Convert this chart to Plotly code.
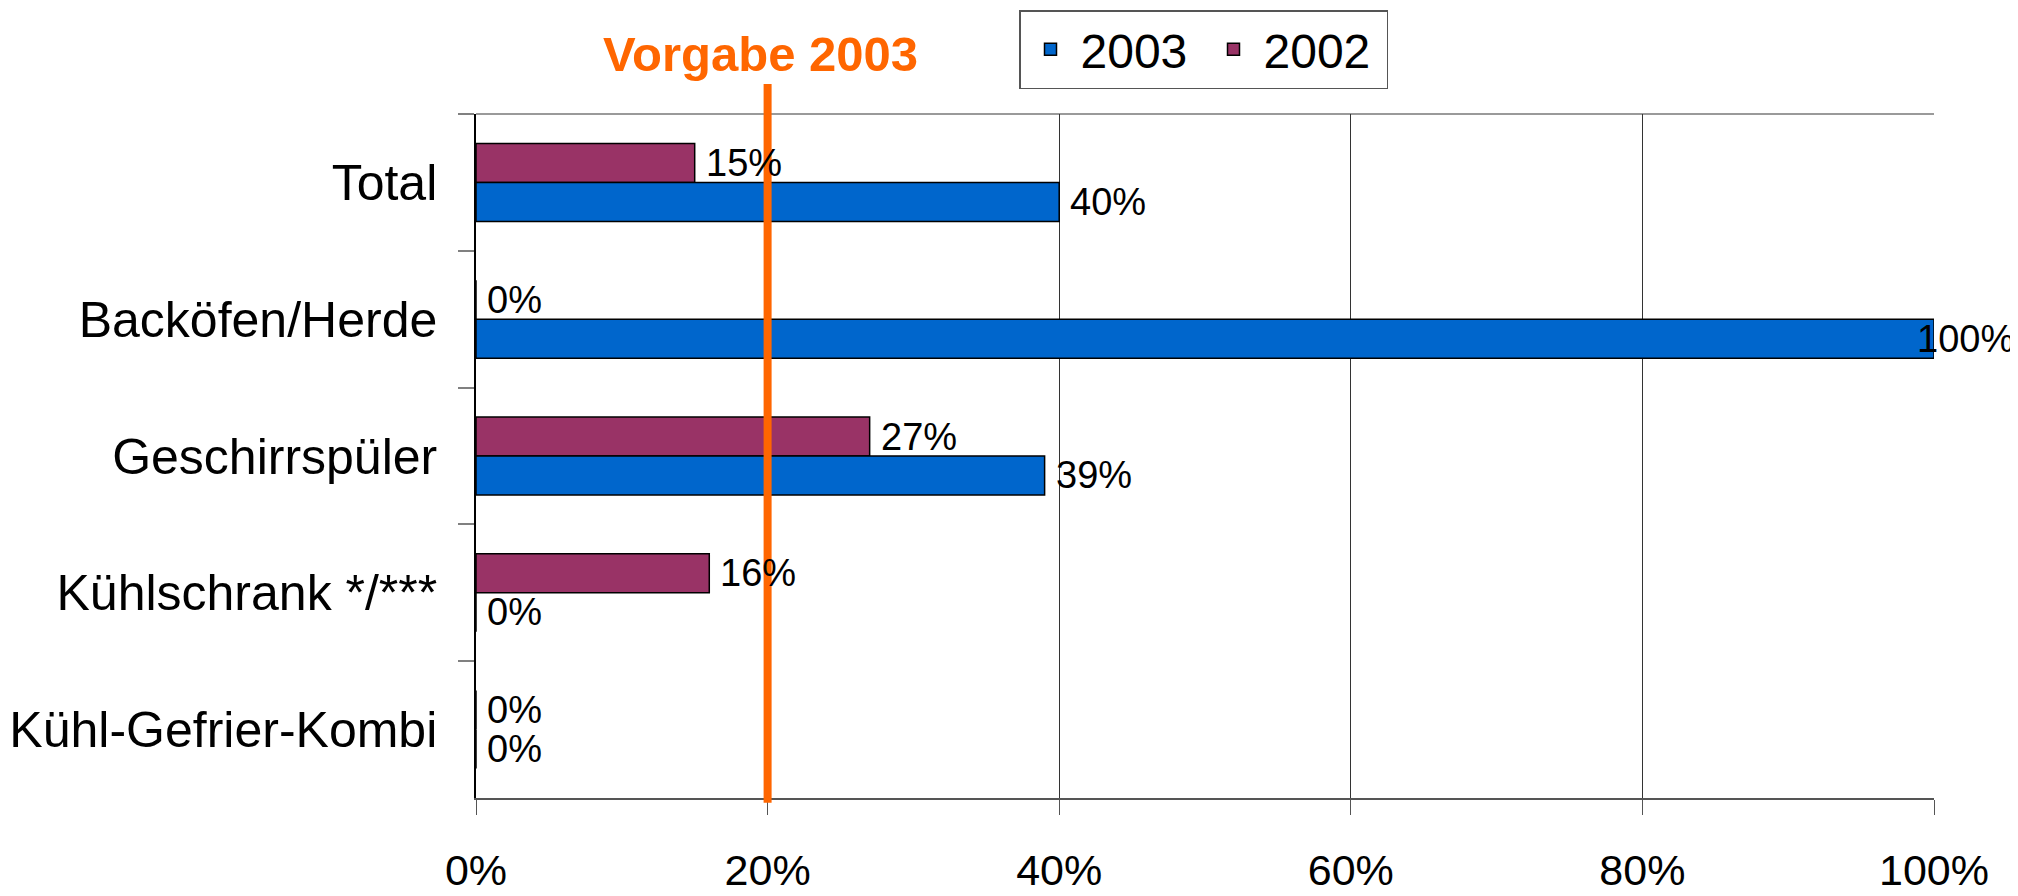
import plotly.graph_objects as go

categories = ["Total", "Backöfen/Herde", "Geschirrspüler", "Kühlschrank */***", "Kühl-Gefrier-Kombi"]
values_2003 = [0.40, 1.00, 0.39, 0.00, 0.00]
values_2002 = [0.15, 0.00, 0.27, 0.16, 0.00]
target_value = 0.20
target_label = "Vorgabe 2003"
x_tickvals = [0, 0.2, 0.4, 0.6, 0.8, 1.0]
x_ticktext = ["0%", "20%", "40%", "60%", "80%", "100%"]

COL_2003 = "#0066CC"
COL_2002 = "#993366"
ORANGE = "#FF6600"
FONT = "Liberation Sans, Arial, sans-serif"

# page body has an 8px default margin; compensate so the figure lands on the page like the reference
OFF = 8
W, H = 2018 - OFF, 896 - OFF
ML, MT = 476 - OFF, 114 - OFF
MR, MB = 2018 - 1934, 896 - 798
plot_h = H - MT - MB
cat_h = plot_h / len(categories)
BARGAP = 0.43
bar_px = (1 - BARGAP) * cat_h / 2

fig = go.Figure()
for name, vals, col in [("2002", values_2002, COL_2002), ("2003", values_2003, COL_2003)]:
    fig.add_trace(go.Bar(
        name=name, y=categories, x=vals, orientation="h",
        marker=dict(color=col, line=dict(color="#000000", width=1.5)),
        hoverinfo="x+y",
    ))

annotations = []
for vals, sign in [(values_2002, 1), (values_2003, -1)]:
    for cat, v in zip(categories, vals):
        near_end = v > 0.9
        annotations.append(dict(
            x=v, y=cat, xref="x", yref="y",
            text=f"{v*100:.0f}%", showarrow=False,
            xanchor="left", yanchor="middle",
            xshift=-19 if near_end else 9,
            yshift=sign * bar_px / 2,
            font=dict(family=FONT, size=38, color="#000000"),
        ))

annotations.append(dict(
    x=target_value, xref="x", y=(H - MB - (54 - OFF)) / plot_h, yref="paper",
    text=f"<b>{target_label}</b>", showarrow=False,
    xanchor="center", yanchor="middle", xshift=-7,
    font=dict(family=FONT, size=49, color=ORANGE),
))

shapes = [
    dict(type="line", xref="paper", yref="paper", x0=0, x1=1, y0=1, y1=1,
         line=dict(color="#9a9a9a", width=2), layer="below"),
    dict(type="line", xref="x", x0=target_value, x1=target_value,
         yref="paper", y0=-0.007, y1=(H - MB - (84 - OFF)) / plot_h,
         line=dict(color=ORANGE, width=8), layer="above"),
]

fig.update_layout(
    width=W, height=H,
    margin=dict(l=ML, r=MR, t=MT, b=MB, pad=0, autoexpand=False),
    paper_bgcolor="white", plot_bgcolor="white",
    barmode="group", bargap=BARGAP, bargroupgap=0,
    font=dict(family=FONT, color="#000000"),
    showlegend=True,
    legend=dict(
        orientation="h", traceorder="reversed",
        xref="container", yref="container",
        x=(1019 - OFF) / W, xanchor="left",
        y=1 - (10 - OFF) / H, yanchor="top",
        bgcolor="white", bordercolor="#555555", borderwidth=1.5,
        font=dict(family=FONT, size=48, color="#000000"),
        itemwidth=50, entrywidth=118, entrywidthmode="pixels",
    ),
    annotations=annotations,
    shapes=shapes,
)

fig.update_xaxes(
    range=[0, 1], tickvals=x_tickvals, ticktext=x_ticktext,
    automargin=False,
    showgrid=True, gridcolor="#333333", gridwidth=1,
    zeroline=False,
    showline=True, linecolor="#555555", linewidth=2,
    ticks="outside", ticklen=15, tickcolor="#555555", tickwidth=1,
    tickfont=dict(family=FONT, size=43, color="#000000"),
    ticklabelstandoff=18,
    fixedrange=True,
)
fig.update_yaxes(
    autorange="reversed", type="category",
    automargin=False,
    showgrid=False, zeroline=False,
    showline=True, linecolor="#000000", linewidth=1.5,
    ticks="outside", tickson="boundaries", ticklen=16, tickcolor="#808080", tickwidth=2,
    tickfont=dict(family=FONT, size=50, color="#000000"),
    ticklabelstandoff=27,
    fixedrange=True,
)

fig.write_html("out.html")
